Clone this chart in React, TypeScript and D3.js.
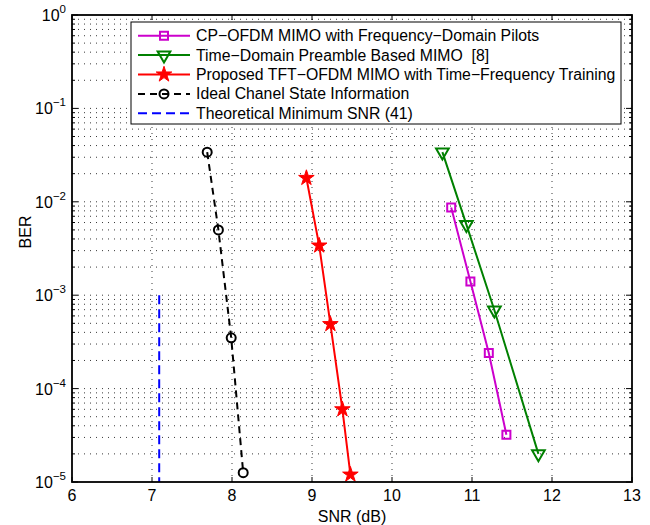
import React from 'react';
import * as d3 from 'd3';

// BER vs SNR curves
const cpSnr = [10.74, 10.98, 11.21, 11.43];
const cpBer = [8.7e-3, 1.4e-3, 2.4e-4, 3.2e-5];

const tdSnr = [10.63, 10.93, 11.28, 11.83];
const tdBer = [3.4e-2, 5.7e-3, 6.9e-4, 2.0e-5];

const tftSnr = [8.93, 9.09, 9.23, 9.38, 9.48];
const tftBer = [1.8e-2, 3.4e-3, 4.9e-4, 6.0e-5, 1.2e-5];

const idealSnr = [7.69, 7.83, 7.99, 8.14];
const idealBer = [3.4e-2, 5.0e-3, 3.5e-4, 1.26e-5];

const minSnr = [7.09, 7.09];
const minBer = [1e-3, 1e-5];

const xTicks = [6, 7, 8, 9, 10, 11, 12, 13];
const yExponents = [0, -1, -2, -3, -4, -5];

const legendLabels = [
  'CP\u2212OFDM MIMO with Frequency\u2212Domain Pilots',
  'Time\u2212Domain Preamble Based MIMO \u00a0[8]',
  'Proposed TFT\u2212OFDM MIMO with Time\u2212Frequency Training',
  'Ideal Chanel State Information',
  'Theoretical Minimum SNR (41)',
];

const width = 650;
const height = 525;
const margin = { top: 15, right: 18, bottom: 43, left: 72 };
const font = '"Liberation Sans", Arial, Helvetica, sans-serif';

type Series = {
  snr: number[];
  ber: number[];
  color: string;
  dash?: string;
  marker: 'square' | 'triangle' | 'star' | 'circle' | 'none';
};

const series: Series[] = [
  { snr: cpSnr, ber: cpBer, color: '#cc00cc', marker: 'square' },
  { snr: tdSnr, ber: tdBer, color: '#008000', marker: 'triangle' },
  { snr: tftSnr, ber: tftBer, color: '#ff0000', marker: 'star' },
  { snr: idealSnr, ber: idealBer, color: '#000000', dash: '7,5', marker: 'circle' },
  { snr: minSnr, ber: minBer, color: '#0000ff', dash: '9,5', marker: 'none' },
];

const xScale = d3.scaleLinear().domain([6, 13]).range([margin.left, width - margin.right]);
const yScale = d3.scaleLog().domain([1e-5, 1]).range([height - margin.bottom, margin.top]);

const minorY: number[] = [];
for (let e = -5; e < 0; e++) {
  for (let k = 2; k <= 9; k++) minorY.push(k * Math.pow(10, e));
}

const Marker = ({ kind, color, x, y }: { kind: Series['marker']; color: string; x: number; y: number }) => {
  if (kind === 'none') return null;
  if (kind === 'square') {
    return <path d={d3.symbol(d3.symbolSquare, 64)()!} transform={`translate(${x},${y})`}
      fill="none" stroke={color} strokeWidth={2} />;
  }
  if (kind === 'triangle') {
    return <path d={d3.symbol(d3.symbolTriangle, 70)()!} transform={`translate(${x},${y}) rotate(180)`}
      fill="none" stroke={color} strokeWidth={2} />;
  }
  if (kind === 'star') {
    return <path d={d3.symbol(d3.symbolStar, 75)()!} transform={`translate(${x},${y})`}
      fill={color} stroke={color} strokeWidth={1} />;
  }
  return <circle cx={x} cy={y} r={4.5} fill="none" stroke={color} strokeWidth={2} />;
};

const App = () => {
  const x0 = margin.left;
  const x1 = width - margin.right;
  const y0 = height - margin.bottom;
  const y1 = margin.top;

  const line = d3.line<[number, number]>()
    .x(d => xScale(d[0]))
    .y(d => yScale(d[1]));

  const legend = { x: 131, y: 22, w: 490, h: 102, row: 19.4 };

  return (
    <svg width={width} height={height} viewBox={`0 0 ${width} ${height}`}
      style={{ position: 'absolute', left: 0, top: 0, background: '#fff' }}
      fontFamily={font}>
      <rect x={0} y={0} width={width} height={height} fill="#fff" />

      {/* grid */}
      <g stroke="#222" strokeWidth={0.9} strokeDasharray="1,5">
        {xTicks.slice(1, -1).map(t => (
          <line key={`gx${t}`} x1={xScale(t)} x2={xScale(t)} y1={y0} y2={y1} />
        ))}
        {yExponents.slice(1, -1).map(e => (
          <line key={`gy${e}`} x1={x0} x2={x1} y1={yScale(Math.pow(10, e))} y2={yScale(Math.pow(10, e))} />
        ))}
        {minorY.map(v => (
          <line key={`gm${v}`} x1={x0} x2={x1} y1={yScale(v)} y2={yScale(v)} />
        ))}
      </g>

      {/* data */}
      {series.map((s, i) => {
        const pts = s.snr.map((v, j) => [v, s.ber[j]] as [number, number]);
        return (
          <g key={`s${i}`}>
            <path d={line(pts)!} fill="none" stroke={s.color} strokeWidth={2}
              strokeDasharray={s.dash} />
            {pts.map((p, j) => (
              <Marker key={j} kind={s.marker} color={s.color} x={xScale(p[0])} y={yScale(p[1])} />
            ))}
          </g>
        );
      })}

      {/* ticks */}
      <g stroke="#000" strokeWidth={1}>
        {xTicks.map(t => (
          <g key={`tx${t}`}>
            <line x1={xScale(t)} x2={xScale(t)} y1={y0} y2={y0 - 5} />
            <line x1={xScale(t)} x2={xScale(t)} y1={y1} y2={y1 + 5} />
          </g>
        ))}
        {yExponents.map(e => (
          <g key={`ty${e}`}>
            <line x1={x0} x2={x0 + 6} y1={yScale(Math.pow(10, e))} y2={yScale(Math.pow(10, e))} />
            <line x1={x1} x2={x1 - 6} y1={yScale(Math.pow(10, e))} y2={yScale(Math.pow(10, e))} />
          </g>
        ))}
        {minorY.map(v => (
          <g key={`tm${v}`}>
            <line x1={x0} x2={x0 + 3} y1={yScale(v)} y2={yScale(v)} />
            <line x1={x1} x2={x1 - 3} y1={yScale(v)} y2={yScale(v)} />
          </g>
        ))}
      </g>

      {/* axes box */}
      <rect x={x0} y={y1} width={x1 - x0} height={y0 - y1} fill="none" stroke="#000" strokeWidth={1.8} />

      {/* tick labels */}
      <g fontSize={16} fill="#000">
        {xTicks.map(t => (
          <text key={`lx${t}`} x={xScale(t)} y={y0 + 19} textAnchor="middle">{t}</text>
        ))}
        {yExponents.map(e => (
          <text key={`ly${e}`} x={x0 - 6} y={yScale(Math.pow(10, e)) + 6} textAnchor="end">
            10<tspan fontSize={11.5} dy={-8}>{e === 0 ? '0' : `\u2212${-e}`}</tspan>
          </text>
        ))}
        <text x={(x0 + x1) / 2} y={y0 + 40} textAnchor="middle">SNR (dB)</text>
        <text transform={`translate(31,232) rotate(-90)`} textAnchor="middle">BER</text>
      </g>

      {/* legend */}
      <g>
        <rect x={legend.x} y={legend.y} width={legend.w} height={legend.h} fill="#fff" stroke="#000" strokeWidth={1} />
        {series.map((s, i) => {
          const cy = legend.y + 13.7 + i * legend.row;
          return (
            <g key={`lg${i}`}>
              <line x1={legend.x + 7} x2={legend.x + 59} y1={cy} y2={cy} stroke={s.color} strokeWidth={2}
                strokeDasharray={s.dash} />
              <Marker kind={s.marker} color={s.color} x={legend.x + 33} y={cy} />
              <text x={legend.x + 65} y={cy + 5.5} fontSize={15.8} fill="#000">{legendLabels[i]}</text>
            </g>
          );
        })}
      </g>
    </svg>
  );
};

export default App;
